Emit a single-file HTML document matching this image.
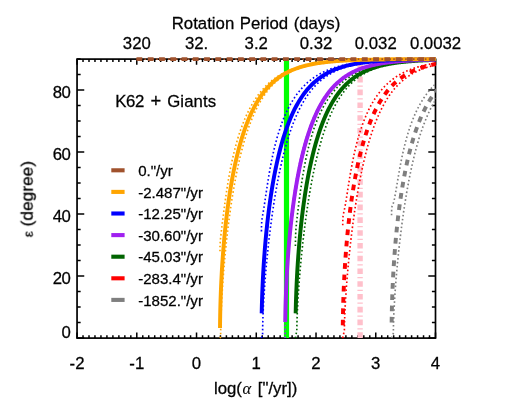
<!DOCTYPE html>
<html><head><meta charset="utf-8"><title>plot</title>
<style>html,body{margin:0;padding:0;background:#fff;overflow:hidden}svg{display:block}text{font-family:"Liberation Sans",sans-serif;font-size:16.75px;fill:#000;stroke:#000;stroke-width:0.28px}</style></head><body>
<svg width="512" height="398" viewBox="0 0 512 398">
<rect width="512" height="398" fill="#fff"/>
<defs><clipPath id="c"><rect x="76.05" y="56.90" width="359.80" height="282.20"/></clipPath></defs>
<path d="M77.05 338.10v-5.60M77.05 59.10v5.60M83.02 338.10v-2.80M83.02 59.10v2.80M89.00 338.10v-2.80M89.00 59.10v2.80M94.97 338.10v-2.80M94.97 59.10v2.80M100.95 338.10v-2.80M100.95 59.10v2.80M106.92 338.10v-2.80M106.92 59.10v2.80M112.90 338.10v-2.80M112.90 59.10v2.80M118.87 338.10v-2.80M118.87 59.10v2.80M124.84 338.10v-2.80M124.84 59.10v2.80M130.82 338.10v-2.80M130.82 59.10v2.80M136.79 338.10v-5.60M136.79 59.10v5.60M142.77 338.10v-2.80M142.77 59.10v2.80M148.74 338.10v-2.80M148.74 59.10v2.80M154.71 338.10v-2.80M154.71 59.10v2.80M160.69 338.10v-2.80M160.69 59.10v2.80M166.66 338.10v-2.80M166.66 59.10v2.80M172.64 338.10v-2.80M172.64 59.10v2.80M178.61 338.10v-2.80M178.61 59.10v2.80M184.59 338.10v-2.80M184.59 59.10v2.80M190.56 338.10v-2.80M190.56 59.10v2.80M196.53 338.10v-5.60M196.53 59.10v5.60M202.51 338.10v-2.80M202.51 59.10v2.80M208.48 338.10v-2.80M208.48 59.10v2.80M214.46 338.10v-2.80M214.46 59.10v2.80M220.43 338.10v-2.80M220.43 59.10v2.80M226.40 338.10v-2.80M226.40 59.10v2.80M232.38 338.10v-2.80M232.38 59.10v2.80M238.35 338.10v-2.80M238.35 59.10v2.80M244.33 338.10v-2.80M244.33 59.10v2.80M250.30 338.10v-2.80M250.30 59.10v2.80M256.27 338.10v-5.60M256.27 59.10v5.60M262.25 338.10v-2.80M262.25 59.10v2.80M268.22 338.10v-2.80M268.22 59.10v2.80M274.20 338.10v-2.80M274.20 59.10v2.80M280.17 338.10v-2.80M280.17 59.10v2.80M286.15 338.10v-2.80M286.15 59.10v2.80M292.12 338.10v-2.80M292.12 59.10v2.80M298.09 338.10v-2.80M298.09 59.10v2.80M304.07 338.10v-2.80M304.07 59.10v2.80M310.04 338.10v-2.80M310.04 59.10v2.80M316.02 338.10v-5.60M316.02 59.10v5.60M321.99 338.10v-2.80M321.99 59.10v2.80M327.96 338.10v-2.80M327.96 59.10v2.80M333.94 338.10v-2.80M333.94 59.10v2.80M339.91 338.10v-2.80M339.91 59.10v2.80M345.89 338.10v-2.80M345.89 59.10v2.80M351.86 338.10v-2.80M351.86 59.10v2.80M357.84 338.10v-2.80M357.84 59.10v2.80M363.81 338.10v-2.80M363.81 59.10v2.80M369.78 338.10v-2.80M369.78 59.10v2.80M375.76 338.10v-5.60M375.76 59.10v5.60M381.73 338.10v-2.80M381.73 59.10v2.80M387.71 338.10v-2.80M387.71 59.10v2.80M393.68 338.10v-2.80M393.68 59.10v2.80M399.66 338.10v-2.80M399.66 59.10v2.80M405.63 338.10v-2.80M405.63 59.10v2.80M411.60 338.10v-2.80M411.60 59.10v2.80M417.58 338.10v-2.80M417.58 59.10v2.80M423.55 338.10v-2.80M423.55 59.10v2.80M429.53 338.10v-2.80M429.53 59.10v2.80M435.50 338.10v-5.60M435.50 59.10v5.60M77.05 338.10h7.20M435.50 338.10h-7.20M77.05 322.60h3.60M435.50 322.60h-3.60M77.05 307.10h3.60M435.50 307.10h-3.60M77.05 291.60h3.60M435.50 291.60h-3.60M77.05 276.10h7.20M435.50 276.10h-7.20M77.05 260.60h3.60M435.50 260.60h-3.60M77.05 245.10h3.60M435.50 245.10h-3.60M77.05 229.60h3.60M435.50 229.60h-3.60M77.05 214.10h7.20M435.50 214.10h-7.20M77.05 198.60h3.60M435.50 198.60h-3.60M77.05 183.10h3.60M435.50 183.10h-3.60M77.05 167.60h3.60M435.50 167.60h-3.60M77.05 152.10h7.20M435.50 152.10h-7.20M77.05 136.60h3.60M435.50 136.60h-3.60M77.05 121.10h3.60M435.50 121.10h-3.60M77.05 105.60h3.60M435.50 105.60h-3.60M77.05 90.10h7.20M435.50 90.10h-7.20M77.05 74.60h3.60M435.50 74.60h-3.60M77.05 59.10h3.60M435.50 59.10h-3.60" stroke="#000" stroke-width="1.50" fill="none"/>
<rect x="77.05" y="59.10" width="358.45" height="279.00" fill="none" stroke="#000" stroke-width="1.70"/>
<g clip-path="url(#c)">
<line x1="286.5" x2="286.5" y1="59.10" y2="338.10" stroke="#00ff00" stroke-width="5.2"/>
<line x1="360.1" x2="360.1" y1="59.10" y2="338.10" stroke="#ffc0cb" stroke-width="5.4" stroke-dasharray="5.6 3.0 1.25 2.925" stroke-dashoffset="7.825"/>
<path d="M391.55 215.34L391.61 210.71L391.67 209.35L391.73 208.50L391.79 207.90L391.85 207.44L391.91 207.09L391.97 206.80L392.03 206.55L392.09 206.35L392.15 206.17L392.20 206.01L392.26 205.86L392.32 205.72L392.38 205.59L392.44 205.46L392.50 205.33L392.56 205.21L392.62 205.08L392.68 204.95L392.74 204.82L392.80 204.68L392.86 204.54L392.92 204.39L392.98 204.24L393.04 204.09L393.10 203.93L393.16 203.76L393.22 203.59L393.28 203.41L393.34 203.22L393.40 203.03L393.46 202.83L393.52 202.63L393.58 202.42L393.64 202.20L393.70 201.98L393.76 201.76L393.82 201.52L393.88 201.29L393.94 201.04L394.00 200.80L394.06 200.54L394.12 200.28L394.18 200.02L394.24 199.75L394.30 199.48L394.36 199.20L394.42 198.92L394.47 198.63L394.53 198.35L394.77 197.15L395.01 195.90L395.25 194.61L395.49 193.27L395.73 191.91L395.97 190.53L396.21 189.12L396.45 187.71L396.69 186.28L396.92 184.85L397.16 183.42L397.40 181.99L397.64 180.56L397.88 179.15L398.12 177.74L398.36 176.34L398.60 174.96L398.84 173.59L399.08 172.23L399.31 170.89L399.55 169.56L399.79 168.25L400.03 166.96L400.27 165.69L400.51 164.43L400.75 163.19L400.99 161.97L401.23 160.76L401.46 159.58L401.70 158.41L401.94 157.26L402.18 156.12L402.42 155.01L402.66 153.91L402.90 152.83L403.14 151.76L403.38 150.71L403.62 149.68L403.85 148.66L404.09 147.66L404.33 146.67L404.57 145.70L404.81 144.74L405.05 143.80L405.29 142.87L405.53 141.95L405.77 141.05L406.01 140.16L406.24 139.29L406.48 138.43L406.72 137.58L406.96 136.74L407.20 135.91L407.44 135.10L407.68 134.29L407.92 133.50L408.16 132.72L408.39 131.95L408.63 131.20L408.87 130.45L409.11 129.71L409.35 128.98L409.59 128.26L410.78 124.81L411.98 121.57L413.17 118.54L414.37 115.68L415.56 112.98L416.76 110.44L417.95 108.04L419.15 105.77L420.34 103.62L421.54 101.58L422.73 99.64L423.93 97.80L425.12 96.05L426.32 94.39L427.51 92.81L428.71 91.30L429.90 89.86L431.10 88.50L432.29 87.19L433.49 85.95L434.68 84.76L435.88 83.63L437.07 82.55L438.27 81.52" fill="none" stroke="#7f7f7f" stroke-width="1.65" stroke-dasharray="1.6 2.35"/>
<path d="M391.55 338.10L391.55 338.10L393.34 333.35L393.40 328.97L393.46 326.05L393.52 323.68L393.58 321.62L393.64 319.77L393.70 318.07L393.76 316.49L393.82 314.99L393.88 313.57L393.94 312.22L394.00 310.92L394.06 309.66L394.12 308.45L394.18 307.28L394.24 306.14L394.30 305.03L394.36 303.94L394.42 302.88L394.47 301.85L394.53 300.83L394.77 296.96L395.01 293.33L395.25 289.89L395.49 286.61L395.73 283.47L395.97 280.45L396.21 277.53L396.45 274.70L396.69 271.95L396.92 269.28L397.16 266.67L397.40 264.13L397.64 261.64L397.88 259.21L398.12 256.83L398.36 254.50L398.60 252.22L398.84 249.97L399.08 247.77L399.31 245.61L399.55 243.48L399.79 241.39L400.03 239.34L400.27 237.31L400.51 235.32L400.75 233.36L400.99 231.43L401.23 229.53L401.46 227.66L401.70 225.82L401.94 224.00L402.18 222.21L402.42 220.44L402.66 218.70L402.90 216.98L403.14 215.28L403.38 213.61L403.62 211.96L403.85 210.33L404.09 208.72L404.33 207.14L404.57 205.57L404.81 204.03L405.05 202.50L405.29 201.00L405.53 199.51L405.77 198.04L406.01 196.59L406.24 195.16L406.48 193.75L406.72 192.35L406.96 190.97L407.20 189.61L407.44 188.26L407.68 186.93L407.92 185.62L408.16 184.32L408.39 183.04L408.63 181.77L408.87 180.52L409.11 179.28L409.35 178.05L409.59 176.84L410.78 171.00L411.98 165.49L413.17 160.27L414.37 155.34L415.56 150.67L416.76 146.25L417.95 142.06L419.15 138.08L420.34 134.31L421.54 130.73L422.73 127.33L423.93 124.10L425.12 121.03L426.32 118.11L427.51 115.34L428.71 112.70L429.90 110.19L431.10 107.80L432.29 105.53L433.49 103.36L434.68 101.30L435.88 99.33L437.07 97.46L438.27 95.68" fill="none" stroke="#7f7f7f" stroke-width="1.65" stroke-dasharray="1.6 2.35"/>
<path d="M391.65 322.60L391.67 320.94L391.69 319.28L391.72 317.62L391.75 315.96L391.78 314.30L391.82 312.64L391.85 310.98L391.89 309.31L391.93 307.65L391.97 305.99L392.02 304.33L392.07 302.67L392.12 301.01L392.17 299.35L392.23 297.69L392.28 296.03L392.34 294.37L392.40 292.71L392.47 291.05L392.54 289.39L392.61 287.73L392.68 286.06L392.75 284.40L392.83 282.74L392.91 281.08L392.99 279.42L393.07 277.76L393.16 276.10L393.25 274.44L393.34 272.78L393.44 271.12L393.54 269.46L393.64 267.80L393.74 266.14L393.84 264.48L393.95 262.81L394.06 261.15L394.18 259.49L394.29 257.83L394.41 256.17L394.53 254.51L394.66 252.85L394.79 251.19L394.92 249.53L395.05 247.87L395.19 246.21L395.33 244.55L395.47 242.89L395.61 241.23L395.76 239.56L395.92 237.90L396.07 236.24L396.23 234.58L396.39 232.92L396.56 231.26L396.72 229.60L396.89 227.94L397.07 226.28L397.25 224.62L397.43 222.96L397.62 221.30L397.81 219.64L398.00 217.98L398.19 216.31L398.39 214.65L398.60 212.99L398.81 211.33L399.02 209.67L399.24 208.01L399.46 206.35L399.68 204.69L399.91 203.03L400.14 201.37L400.38 199.71L400.62 198.05L400.87 196.39L401.12 194.73L401.37 193.06L401.63 191.40L401.90 189.74L402.17 188.08L402.45 186.42L402.73 184.76L403.01 183.10L403.31 181.44L403.60 179.78L403.91 178.12L404.22 176.46L404.53 174.80L404.85 173.14L405.18 171.48L405.51 169.81L405.85 168.15L406.20 166.49L406.56 164.83L406.92 163.17L407.29 161.51L407.66 159.85L408.05 158.19L408.44 156.53L408.84 154.87L409.25 153.21L409.67 151.55L410.10 149.89L410.54 148.23L410.98 146.56L411.44 144.90L411.91 143.24L412.39 141.58L412.88 139.92L413.38 138.26L413.89 136.60L414.42 134.94L414.96 133.28L415.51 131.62L416.08 129.96L416.67 128.30L417.26 126.64L417.88 124.98L418.51 123.31L419.16 121.65L419.83 119.99L420.52 118.33L421.23 116.67L421.97 115.01L422.72 113.35L423.51 111.69L424.32 110.03L425.15 108.37L426.02 106.71L426.92 105.05L427.85 103.39L428.83 101.73L429.84 100.06L430.89 98.40L432.00 96.74L433.15 95.08L434.36 93.42L435.63 91.76L436.97 90.10L437.18 89.84L437.40 89.59L437.61 89.34L437.83 89.09L438.04 88.84L438.25 88.59L438.47 88.35" fill="none" stroke="#7f7f7f" stroke-width="3.95" stroke-dasharray="5.7 5.6"/>
<path d="M342.74 225.26L342.80 220.37L342.86 218.81L342.92 217.77L342.98 216.99L343.04 216.36L343.10 215.83L343.16 215.38L343.22 214.97L343.28 214.61L343.34 214.27L343.40 213.96L343.46 213.67L343.52 213.39L343.58 213.11L343.64 212.85L343.70 212.59L343.76 212.33L343.82 212.07L343.88 211.82L343.94 211.56L344.00 211.31L344.06 211.05L344.12 210.79L344.18 210.53L344.24 210.26L344.30 209.99L344.36 209.72L344.42 209.45L344.48 209.17L344.54 208.88L344.60 208.60L344.66 208.31L344.72 208.01L344.78 207.71L344.83 207.41L344.89 207.11L344.95 206.80L345.01 206.48L345.07 206.17L345.13 205.84L345.19 205.52L345.25 205.19L345.31 204.86L345.37 204.53L345.43 204.19L345.49 203.85L345.55 203.51L345.61 203.17L345.67 202.82L345.73 202.47L345.97 201.04L346.21 199.59L346.45 198.11L346.69 196.61L346.93 195.09L347.16 193.56L347.40 192.03L347.64 190.50L347.88 188.97L348.12 187.45L348.36 185.93L348.60 184.42L348.84 182.92L349.08 181.44L349.32 179.97L349.55 178.52L349.79 177.08L350.03 175.66L350.27 174.26L350.51 172.88L350.75 171.52L350.99 170.17L351.23 168.85L351.47 167.54L351.71 166.26L351.94 164.99L352.18 163.74L352.42 162.51L352.66 161.31L352.90 160.11L353.14 158.94L353.38 157.79L353.62 156.65L353.86 155.54L354.09 154.44L354.33 153.35L354.57 152.29L354.81 151.24L355.05 150.20L355.29 149.18L355.53 148.18L355.77 147.19L356.01 146.22L356.25 145.26L356.48 144.32L356.72 143.39L356.96 142.48L357.20 141.58L357.44 140.69L357.68 139.81L357.92 138.95L358.16 138.10L358.40 137.26L358.64 136.43L358.87 135.62L359.11 134.82L359.35 134.02L359.59 133.24L359.83 132.47L360.07 131.71L360.31 130.96L360.55 130.22L360.79 129.49L361.98 125.98L363.18 122.70L364.37 119.61L365.57 116.70L366.76 113.96L367.95 111.37L369.15 108.93L370.34 106.61L371.54 104.42L372.73 102.34L373.93 100.37L375.12 98.49L376.32 96.71L377.51 95.01L378.71 93.40L379.90 91.87L381.10 90.40L382.29 89.01L383.49 87.68L384.68 86.41L385.88 85.20L387.07 84.05L388.27 82.95L389.46 81.89L390.66 80.89L391.85 79.93L393.05 79.02L394.24 78.14L395.44 77.31L396.63 76.51L397.83 75.74L399.02 75.01L400.22 74.32L401.41 73.65L402.60 73.01L403.80 72.40L404.99 71.82L406.19 71.27L407.38 70.73L408.58 70.22L409.77 69.74L410.97 69.27L412.16 68.83L413.36 68.40L414.55 67.99L415.75 67.61L416.94 67.23L418.14 66.88L419.33 66.54L420.53 66.21L421.72 65.90L422.92 65.60L424.11 65.32L425.31 65.05L426.50 64.79L427.70 64.54L428.89 64.30L430.09 64.07L431.28 63.85L432.48 63.65L433.67 63.45L434.87 63.26L436.06 63.07L437.26 62.90L438.45 62.73" fill="none" stroke="#ff0000" stroke-width="1.65" stroke-dasharray="1.6 2.35"/>
<path d="M342.74 338.10L342.74 338.10L344.36 330.48L344.42 327.14L344.48 324.57L344.54 322.38L344.60 320.44L344.66 318.66L344.72 317.02L344.78 315.47L344.83 314.01L344.89 312.62L344.95 311.29L345.01 310.00L345.07 308.76L345.13 307.56L345.19 306.40L345.25 305.26L345.31 304.16L345.37 303.08L345.43 302.02L345.49 300.99L345.55 299.98L345.61 298.99L345.67 298.01L345.73 297.06L345.97 293.37L346.21 289.89L346.45 286.58L346.69 283.40L346.93 280.35L347.16 277.41L347.40 274.56L347.64 271.79L347.88 269.10L348.12 266.48L348.36 263.93L348.60 261.43L348.84 258.99L349.08 256.61L349.32 254.27L349.55 251.98L349.79 249.73L350.03 247.52L350.27 245.35L350.51 243.22L350.75 241.13L350.99 239.07L351.23 237.05L351.47 235.06L351.71 233.10L351.94 231.17L352.18 229.26L352.42 227.39L352.66 225.55L352.90 223.73L353.14 221.94L353.38 220.17L353.62 218.43L353.86 216.71L354.09 215.02L354.33 213.35L354.57 211.70L354.81 210.07L355.05 208.47L355.29 206.88L355.53 205.32L355.77 203.78L356.01 202.25L356.25 200.75L356.48 199.26L356.72 197.80L356.96 196.35L357.20 194.92L357.44 193.51L357.68 192.11L357.92 190.74L358.16 189.38L358.40 188.03L358.64 186.70L358.87 185.39L359.11 184.10L359.35 182.82L359.59 181.55L359.83 180.30L360.07 179.06L360.31 177.84L360.55 176.63L360.79 175.44L361.98 169.68L363.18 164.23L364.37 159.09L365.57 154.22L366.76 149.61L367.95 145.25L369.15 141.11L370.34 137.19L371.54 133.46L372.73 129.93L373.93 126.57L375.12 123.38L376.32 120.35L377.51 117.47L378.71 114.73L379.90 112.12L381.10 109.64L382.29 107.28L383.49 105.03L384.68 102.89L385.88 100.85L387.07 98.91L388.27 97.06L389.46 95.30L390.66 93.62L391.85 92.02L393.05 90.50L394.24 89.05L395.44 87.66L396.63 86.34L397.83 85.09L399.02 83.89L400.22 82.74L401.41 81.65L402.60 80.61L403.80 79.62L404.99 78.68L406.19 77.78L407.38 76.92L408.58 76.10L409.77 75.31L410.97 74.57L412.16 73.86L413.36 73.18L414.55 72.53L415.75 71.92L416.94 71.33L418.14 70.76L419.33 70.23L420.53 69.72L421.72 69.23L422.92 68.77L424.11 68.32L425.31 67.90L426.50 67.50L427.70 67.11L428.89 66.74L430.09 66.39L431.28 66.06L432.48 65.74L433.67 65.43L434.87 65.14L436.06 64.87L437.26 64.60L438.45 64.35" fill="none" stroke="#ff0000" stroke-width="1.65" stroke-dasharray="1.6 2.35"/>
<path d="M342.81 325.39L342.83 323.71L342.85 322.03L342.87 320.35L342.90 318.67L342.93 316.99L342.96 315.31L342.99 313.63L343.03 311.94L343.06 310.26L343.10 308.58L343.15 306.90L343.19 305.22L343.24 303.54L343.29 301.86L343.34 300.18L343.39 298.50L343.45 296.82L343.51 295.14L343.57 293.46L343.64 291.78L343.70 290.10L343.77 288.42L343.84 286.74L343.92 285.05L344.00 283.37L344.07 281.69L344.16 280.01L344.24 278.33L344.33 276.65L344.42 274.97L344.51 273.29L344.61 271.61L344.70 269.93L344.80 268.25L344.91 266.57L345.01 264.89L345.12 263.21L345.23 261.53L345.35 259.84L345.47 258.16L345.59 256.48L345.71 254.80L345.83 253.12L345.96 251.44L346.09 249.76L346.23 248.08L346.37 246.40L346.51 244.72L346.65 243.04L346.80 241.36L346.95 239.68L347.10 238.00L347.26 236.32L347.42 234.64L347.58 232.95L347.75 231.27L347.92 229.59L348.09 227.91L348.27 226.23L348.45 224.55L348.64 222.87L348.82 221.19L349.02 219.51L349.21 217.83L349.41 216.15L349.61 214.47L349.82 212.79L350.03 211.11L350.25 209.43L350.47 207.75L350.69 206.06L350.92 204.38L351.15 202.70L351.39 201.02L351.63 199.34L351.87 197.66L352.12 195.98L352.38 194.30L352.64 192.62L352.90 190.94L353.17 189.26L353.45 187.58L353.73 185.90L354.02 184.22L354.31 182.54L354.61 180.85L354.91 179.17L355.22 177.49L355.53 175.81L355.85 174.13L356.18 172.45L356.52 170.77L356.86 169.09L357.21 167.41L357.56 165.73L357.92 164.05L358.29 162.37L358.67 160.69L359.06 159.01L359.45 157.33L359.85 155.65L360.26 153.96L360.68 152.28L361.11 150.60L361.55 148.92L362.00 147.24L362.46 145.56L362.92 143.88L363.41 142.20L363.90 140.52L364.40 138.84L364.92 137.16L365.44 135.48L365.99 133.80L366.54 132.12L367.11 130.44L367.70 128.75L368.30 127.07L368.92 125.39L369.56 123.71L370.21 122.03L370.88 120.35L371.58 118.67L372.29 116.99L373.03 115.31L373.79 113.63L374.58 111.95L375.39 110.27L376.24 108.59L377.11 106.91L378.02 105.23L378.96 103.55L379.94 101.86L380.96 100.18L382.03 98.50L383.14 96.82L384.30 95.14L385.53 93.46L386.81 91.78L388.17 90.10L388.69 89.48L389.20 88.87L389.72 88.28L390.24 87.70L390.76 87.13L391.28 86.57L391.79 86.02L392.31 85.49L392.83 84.96L393.35 84.45L393.87 83.94L394.38 83.45L394.90 82.96L395.42 82.49L395.94 82.02L396.45 81.57L396.97 81.12L397.49 80.69L398.01 80.26L398.53 79.84L399.04 79.42L399.56 79.02L400.08 78.63L400.60 78.24L401.12 77.86L401.63 77.49L402.15 77.12L402.67 76.76L403.19 76.41L403.71 76.07L404.22 75.73L404.74 75.40L405.26 75.08L405.78 74.76L406.30 74.45L406.81 74.15L407.33 73.85L407.85 73.56L408.37 73.27L408.89 72.99L409.40 72.72L409.92 72.45L410.44 72.18L410.96 71.92L411.48 71.67L411.99 71.42L412.51 71.18L413.03 70.94L413.55 70.70L414.07 70.47L414.58 70.25L415.10 70.03L415.62 69.81L416.14 69.60L416.66 69.39L417.17 69.19L417.69 68.99L418.21 68.79L418.73 68.60L419.25 68.41L419.76 68.23L420.28 68.05L420.80 67.87L421.32 67.70L421.84 67.53L422.35 67.36L422.87 67.20L423.39 67.04L423.91 66.88L424.43 66.73L424.94 66.58L425.46 66.43L425.98 66.28L426.50 66.14L427.02 66.00L427.53 65.87L428.05 65.73L428.57 65.60L429.09 65.47L429.61 65.35L430.12 65.22L430.64 65.10L431.16 64.98L431.68 64.87L432.20 64.75L432.71 64.64L433.23 64.53L433.75 64.42L434.27 64.32L434.79 64.22L435.30 64.11L435.82 64.02L436.34 63.92L436.86 63.82L437.38 63.73L437.89 63.64L438.41 63.55" fill="none" stroke="#ff0000" stroke-width="3.95" stroke-dasharray="5.7 5.6"/>
<path d="M295.42 246.03L295.48 239.53L295.54 237.13L295.60 235.40L295.66 233.99L295.72 232.79L295.77 231.73L295.83 230.77L295.89 229.88L295.95 229.06L296.01 228.29L296.07 227.55L296.13 226.85L296.19 226.17L296.25 225.52L296.31 224.89L296.37 224.27L296.43 223.67L296.49 223.08L296.55 222.51L296.61 221.94L296.67 221.38L296.73 220.83L296.79 220.28L296.85 219.74L296.91 219.21L296.97 218.68L297.03 218.15L297.09 217.63L297.15 217.11L297.21 216.60L297.27 216.08L297.33 215.58L297.39 215.07L297.45 214.56L297.51 214.06L297.57 213.56L297.63 213.06L297.69 212.57L297.75 212.07L297.81 211.58L297.87 211.09L297.93 210.59L297.99 210.11L298.04 209.62L298.10 209.13L298.16 208.65L298.22 208.16L298.28 207.68L298.34 207.20L298.40 206.72L298.64 204.82L298.88 202.94L299.12 201.08L299.36 199.24L299.60 197.43L299.84 195.64L300.08 193.88L300.32 192.15L300.55 190.43L300.79 188.75L301.03 187.09L301.27 185.46L301.51 183.86L301.75 182.28L301.99 180.73L302.23 179.21L302.47 177.71L302.70 176.24L302.94 174.79L303.18 173.37L303.42 171.97L303.66 170.60L303.90 169.25L304.14 167.93L304.38 166.63L304.62 165.35L304.86 164.10L305.09 162.86L305.33 161.65L305.57 160.46L305.81 159.29L306.05 158.14L306.29 157.00L306.53 155.89L306.77 154.80L307.01 153.72L307.25 152.66L307.48 151.62L307.72 150.59L307.96 149.59L308.20 148.59L308.44 147.62L308.68 146.66L308.92 145.71L309.16 144.78L309.40 143.86L309.63 142.95L309.87 142.06L310.11 141.19L310.35 140.32L310.59 139.47L310.83 138.63L311.07 137.80L311.31 136.99L311.55 136.18L311.79 135.39L312.02 134.61L312.26 133.84L312.50 133.08L312.74 132.33L312.98 131.59L313.22 130.86L313.46 130.13L314.65 126.67L315.85 123.42L317.04 120.36L318.24 117.48L319.43 114.77L320.63 112.20L321.82 109.77L323.02 107.47L324.21 105.28L325.41 103.21L326.60 101.24L327.80 99.36L328.99 97.58L330.19 95.88L331.38 94.26L332.58 92.71L333.77 91.24L334.97 89.84L336.16 88.49L337.35 87.21L338.55 85.99L339.74 84.82L340.94 83.70L342.13 82.64L343.33 81.62L344.52 80.64L345.72 79.71L346.91 78.82L348.11 77.96L349.30 77.15L350.50 76.37L351.69 75.62L352.89 74.91L354.08 74.22L355.28 73.57L356.47 72.94L357.67 72.35L358.86 71.77L360.06 71.22L361.25 70.70L362.45 70.20L363.64 69.72L364.84 69.26L366.03 68.82L367.23 68.40L368.42 67.99L369.62 67.61L370.81 67.24L372.01 66.89L373.20 66.55L374.39 66.23L375.59 65.92L376.78 65.62L377.98 65.34L379.17 65.07L380.37 64.81L381.56 64.56L382.76 64.32L383.95 64.09L385.15 63.88L386.34 63.67L387.54 63.47L388.73 63.28L389.93 63.10L391.12 62.92L392.32 62.76L393.51 62.60L394.71 62.44L395.90 62.30L397.10 62.16L398.29 62.03L399.49 61.90L400.68 61.78L401.88 61.66L403.07 61.55L404.27 61.44L405.46 61.34L406.66 61.24L407.85 61.15L409.04 61.06L410.24 60.97L411.43 60.89L412.63 60.81L413.82 60.74L415.02 60.66L416.21 60.59L417.41 60.53L418.60 60.47L419.80 60.41L420.99 60.35L422.19 60.29L423.38 60.24L424.58 60.19L425.77 60.14L426.97 60.10L428.16 60.05L429.36 60.01L430.55 59.97L431.75 59.93L432.94 59.90L434.14 59.86L435.33 59.83L436.53 59.80L437.72 59.77" fill="none" stroke="#006400" stroke-width="1.65" stroke-dasharray="1.6 2.35"/>
<path d="M295.42 338.10L295.42 338.10L296.79 330.59L296.85 327.15L296.91 324.51L296.97 322.27L297.03 320.29L297.09 318.47L297.15 316.79L297.21 315.21L297.27 313.72L297.33 312.29L297.39 310.93L297.45 309.62L297.51 308.35L297.57 307.12L297.63 305.93L297.69 304.77L297.75 303.64L297.81 302.54L297.87 301.46L297.93 300.41L297.99 299.38L298.04 298.36L298.10 297.37L298.16 296.39L298.22 295.43L298.28 294.48L298.34 293.55L298.40 292.63L298.64 289.08L298.88 285.71L299.12 282.48L299.36 279.37L299.60 276.38L299.84 273.49L300.08 270.68L300.32 267.95L300.55 265.30L300.79 262.71L301.03 260.18L301.27 257.71L301.51 255.30L301.75 252.93L301.99 250.62L302.23 248.35L302.47 246.12L302.70 243.93L302.94 241.78L303.18 239.67L303.42 237.60L303.66 235.56L303.90 233.55L304.14 231.58L304.38 229.64L304.62 227.72L304.86 225.84L305.09 223.98L305.33 222.16L305.57 220.36L305.81 218.58L306.05 216.83L306.29 215.11L306.53 213.40L306.77 211.73L307.01 210.07L307.25 208.44L307.48 206.83L307.72 205.24L307.96 203.68L308.20 202.13L308.44 200.60L308.68 199.10L308.92 197.61L309.16 196.14L309.40 194.69L309.63 193.26L309.87 191.85L310.11 190.45L310.35 189.08L310.59 187.71L310.83 186.37L311.07 185.04L311.31 183.73L311.55 182.44L311.79 181.16L312.02 179.89L312.26 178.64L312.50 177.41L312.74 176.19L312.98 174.98L313.22 173.79L313.46 172.61L314.65 166.93L315.85 161.57L317.04 156.50L318.24 151.71L319.43 147.18L320.63 142.89L321.82 138.82L323.02 134.97L324.21 131.32L325.41 127.85L326.60 124.56L327.80 121.43L328.99 118.47L330.19 115.65L331.38 112.97L332.58 110.42L333.77 107.99L334.97 105.69L336.16 103.50L337.35 101.41L338.55 99.42L339.74 97.53L340.94 95.73L342.13 94.02L343.33 92.39L344.52 90.83L345.72 89.35L346.91 87.94L348.11 86.60L349.30 85.32L350.50 84.10L351.69 82.94L352.89 81.83L354.08 80.77L355.28 79.77L356.47 78.81L357.67 77.89L358.86 77.02L360.06 76.19L361.25 75.40L362.45 74.65L363.64 73.93L364.84 73.24L366.03 72.59L367.23 71.96L368.42 71.37L369.62 70.80L370.81 70.26L372.01 69.75L373.20 69.26L374.39 68.79L375.59 68.34L376.78 67.91L377.98 67.51L379.17 67.12L380.37 66.75L381.56 66.40L382.76 66.06L383.95 65.74L385.15 65.43L386.34 65.14L387.54 64.86L388.73 64.60L389.93 64.35L391.12 64.10L392.32 63.87L393.51 63.65L394.71 63.45L395.90 63.25L397.10 63.06L398.29 62.87L399.49 62.70L400.68 62.53L401.88 62.38L403.07 62.23L404.27 62.08L405.46 61.95L406.66 61.82L407.85 61.69L409.04 61.57L410.24 61.46L411.43 61.35L412.63 61.25L413.82 61.15L415.02 61.05L416.21 60.96L417.41 60.88L418.60 60.80L419.80 60.72L420.99 60.65L422.19 60.58L423.38 60.51L424.58 60.44L425.77 60.38L426.97 60.32L428.16 60.27L429.36 60.21L430.55 60.16L431.75 60.11L432.94 60.07L434.14 60.02L435.33 59.98L436.53 59.94L437.72 59.90" fill="none" stroke="#006400" stroke-width="1.65" stroke-dasharray="1.6 2.35"/>
<path d="M295.67 313.39L295.70 311.80L295.74 310.20L295.78 308.61L295.82 307.01L295.86 305.42L295.90 303.82L295.95 302.23L296.00 300.63L296.05 299.04L296.10 297.44L296.16 295.85L296.22 294.25L296.27 292.66L296.34 291.06L296.40 289.47L296.47 287.87L296.54 286.28L296.61 284.68L296.68 283.09L296.76 281.49L296.83 279.90L296.92 278.30L297.00 276.71L297.08 275.11L297.17 273.52L297.26 271.92L297.35 270.33L297.45 268.73L297.54 267.14L297.64 265.54L297.75 263.95L297.85 262.35L297.96 260.76L298.07 259.16L298.18 257.57L298.29 255.97L298.41 254.38L298.53 252.78L298.65 251.19L298.78 249.60L298.91 248.00L299.04 246.41L299.17 244.81L299.31 243.22L299.45 241.62L299.59 240.03L299.74 238.43L299.88 236.84L300.03 235.24L300.19 233.65L300.35 232.05L300.50 230.46L300.67 228.86L300.83 227.27L301.00 225.67L301.18 224.08L301.35 222.48L301.53 220.89L301.71 219.29L301.90 217.70L302.09 216.10L302.28 214.51L302.48 212.91L302.68 211.32L302.88 209.72L303.09 208.13L303.30 206.53L303.51 204.94L303.73 203.34L303.96 201.75L304.18 200.15L304.41 198.56L304.65 196.96L304.89 195.37L305.13 193.77L305.38 192.18L305.63 190.58L305.89 188.99L306.15 187.39L306.42 185.80L306.69 184.20L306.97 182.61L307.25 181.01L307.54 179.42L307.83 177.82L308.13 176.23L308.43 174.63L308.74 173.04L309.05 171.44L309.38 169.85L309.70 168.25L310.04 166.66L310.38 165.06L310.72 163.47L311.08 161.87L311.44 160.28L311.80 158.68L312.18 157.09L312.56 155.49L312.95 153.90L313.35 152.30L313.76 150.71L314.17 149.11L314.60 147.52L315.03 145.92L315.47 144.33L315.92 142.73L316.39 141.14L316.86 139.54L317.34 137.95L317.84 136.35L318.35 134.76L318.87 133.16L319.40 131.57L319.95 129.97L320.50 128.38L321.08 126.78L321.67 125.19L322.27 123.59L322.89 122.00L323.53 120.40L324.19 118.81L324.87 117.21L325.56 115.62L326.28 114.02L327.02 112.43L327.79 110.83L328.58 109.24L329.40 107.64L330.24 106.05L331.12 104.45L332.03 102.86L332.97 101.26L333.95 99.67L334.98 98.07L336.04 96.48L337.16 94.88L338.33 93.29L339.55 91.69L340.84 90.10L341.66 89.13L342.47 88.19L343.29 87.28L344.10 86.40L344.92 85.55L345.74 84.73L346.55 83.93L347.37 83.15L348.19 82.40L349.00 81.68L349.82 80.98L350.64 80.29L351.45 79.64L352.27 79.00L353.08 78.38L353.90 77.78L354.72 77.20L355.53 76.64L356.35 76.09L357.17 75.56L357.98 75.05L358.80 74.56L359.61 74.08L360.43 73.61L361.25 73.16L362.06 72.72L362.88 72.30L363.70 71.89L364.51 71.50L365.33 71.11L366.14 70.74L366.96 70.38L367.78 70.03L368.59 69.69L369.41 69.36L370.23 69.04L371.04 68.73L371.86 68.44L372.67 68.15L373.49 67.87L374.31 67.59L375.12 67.33L375.94 67.08L376.76 66.83L377.57 66.59L378.39 66.36L379.20 66.13L380.02 65.91L380.84 65.70L381.65 65.50L382.47 65.30L383.29 65.11L384.10 64.92L384.92 64.74L385.74 64.57L386.55 64.40L387.37 64.23L388.18 64.07L389.00 63.92L389.82 63.77L390.63 63.63L391.45 63.49L392.27 63.35L393.08 63.22L393.90 63.09L394.71 62.97L395.53 62.85L396.35 62.73L397.16 62.62L397.98 62.51L398.80 62.40L399.61 62.30L400.43 62.20L401.24 62.11L402.06 62.01L402.88 61.92L403.69 61.84L404.51 61.75L405.33 61.67L406.14 61.59L406.96 61.51L407.77 61.44L408.59 61.37L409.41 61.29L410.22 61.23L411.04 61.16L411.86 61.10L412.67 61.04L413.49 60.98L414.31 60.92L415.12 60.86L415.94 60.81L416.75 60.75L417.57 60.70L418.39 60.65L419.20 60.60L420.02 60.56L420.84 60.51L421.65 60.47L422.47 60.43L423.28 60.39L424.10 60.35L424.92 60.31L425.73 60.27L426.55 60.23L427.37 60.20L428.18 60.16L429.00 60.13L429.81 60.10L430.63 60.07L431.45 60.04L432.26 60.01L433.08 59.98L433.90 59.95L434.71 59.93L435.53 59.90L436.34 59.88L437.16 59.85L437.98 59.83" fill="none" stroke="#006400" stroke-width="3.95"/>
<path d="M285.14 313.30L285.20 307.49L285.26 304.24L285.32 301.54L285.38 299.15L285.44 296.97L285.50 294.95L285.56 293.06L285.62 291.28L285.68 289.58L285.74 287.96L285.80 286.41L285.86 284.91L285.92 283.47L285.98 282.07L286.04 280.72L286.10 279.40L286.16 278.13L286.22 276.88L286.28 275.66L286.34 274.48L286.40 273.32L286.46 272.18L286.52 271.07L286.58 269.98L286.64 268.91L286.70 267.86L286.76 266.83L286.82 265.81L286.88 264.82L286.94 263.84L286.99 262.87L287.05 261.92L287.11 260.99L287.17 260.06L287.23 259.15L287.29 258.26L287.35 257.37L287.41 256.50L287.47 255.64L287.53 254.79L287.59 253.95L287.65 253.12L287.71 252.30L287.77 251.48L287.83 250.68L287.89 249.89L287.95 249.11L288.01 248.33L288.07 247.56L288.13 246.80L288.37 243.84L288.61 241.00L288.85 238.25L289.09 235.60L289.32 233.03L289.56 230.55L289.80 228.14L290.04 225.79L290.28 223.52L290.52 221.30L290.76 219.14L291.00 217.04L291.24 214.99L291.48 212.98L291.71 211.03L291.95 209.11L292.19 207.24L292.43 205.41L292.67 203.61L292.91 201.86L293.15 200.14L293.39 198.45L293.63 196.79L293.87 195.17L294.10 193.58L294.34 192.01L294.58 190.48L294.82 188.97L295.06 187.48L295.30 186.03L295.54 184.59L295.78 183.19L296.02 181.80L296.25 180.44L296.49 179.09L296.73 177.77L296.97 176.47L297.21 175.19L297.45 173.93L297.69 172.69L297.93 171.47L298.17 170.26L298.41 169.08L298.64 167.90L298.88 166.75L299.12 165.61L299.36 164.49L299.60 163.38L299.84 162.29L300.08 161.22L300.32 160.15L300.56 159.11L300.80 158.07L301.03 157.05L301.27 156.05L301.51 155.05L301.75 154.07L301.99 153.10L302.23 152.15L302.47 151.20L302.71 150.27L302.95 149.35L303.18 148.44L304.38 144.05L305.57 139.92L306.77 136.03L307.96 132.34L309.16 128.86L310.35 125.57L311.55 122.44L312.74 119.48L313.94 116.67L315.13 113.99L316.33 111.46L317.52 109.04L318.72 106.75L319.91 104.56L321.11 102.48L322.30 100.50L323.50 98.61L324.69 96.82L325.89 95.10L327.08 93.47L328.28 91.91L329.47 90.43L330.67 89.01L331.86 87.66L333.06 86.37L334.25 85.14L335.45 83.97L336.64 82.85L337.83 81.78L339.03 80.76L340.22 79.79L341.42 78.86L342.61 77.97L343.81 77.12L345.00 76.31L346.20 75.54L347.39 74.80L348.59 74.10L349.78 73.42L350.98 72.78L352.17 72.17L353.37 71.58L354.56 71.02L355.76 70.49L356.95 69.98L358.15 69.49L359.34 69.02L360.54 68.58L361.73 68.15L362.93 67.75L364.12 67.36L365.32 66.99L366.51 66.64L367.71 66.30L368.90 65.98L370.10 65.67L371.29 65.37L372.49 65.09L373.68 64.82L374.87 64.57L376.07 64.32L377.26 64.09L378.46 63.86L379.65 63.65L380.85 63.45L382.04 63.25L383.24 63.07L384.43 62.89L385.63 62.72L386.82 62.56L388.02 62.40L389.21 62.25L390.41 62.11L391.60 61.98L392.80 61.85L393.99 61.72L395.19 61.61L396.38 61.49L397.58 61.39L398.77 61.28L399.97 61.19L401.16 61.09L402.36 61.00L403.55 60.92L404.75 60.84L405.94 60.76L407.14 60.68L408.33 60.61L409.52 60.55L410.72 60.48L411.91 60.42L413.11 60.36L414.30 60.30L415.50 60.25L416.69 60.20L417.89 60.15L419.08 60.10L420.28 60.06L421.47 60.01L422.67 59.97L423.86 59.93L425.06 59.90L426.25 59.86L427.45 59.83L428.64 59.79L429.84 59.76L431.03 59.73L432.23 59.70L433.42 59.68L434.62 59.65L435.81 59.63L437.01 59.60L438.20 59.58" fill="none" stroke="#a020f0" stroke-width="1.65" stroke-dasharray="1.6 2.35"/>
<path d="M285.14 338.10L285.14 338.10L285.20 331.83L285.26 326.28L285.32 322.30L285.38 319.01L285.44 316.13L285.50 313.56L285.56 311.20L285.62 309.01L285.68 306.96L285.74 305.03L285.80 303.19L285.86 301.44L285.92 299.77L285.98 298.16L286.04 296.62L286.10 295.12L286.16 293.67L286.22 292.27L286.28 290.91L286.34 289.58L286.40 288.29L286.46 287.04L286.52 285.81L286.58 284.61L286.64 283.43L286.70 282.28L286.76 281.16L286.82 280.05L286.88 278.97L286.94 277.91L286.99 276.86L287.05 275.83L287.11 274.82L287.17 273.83L287.23 272.85L287.29 271.89L287.35 270.94L287.41 270.00L287.47 269.08L287.53 268.17L287.59 267.27L287.65 266.39L287.71 265.51L287.77 264.65L287.83 263.80L287.89 262.95L287.95 262.12L288.01 261.30L288.07 260.48L288.13 259.68L288.37 256.55L288.61 253.54L288.85 250.64L289.09 247.85L289.32 245.15L289.56 242.54L289.80 240.01L290.04 237.55L290.28 235.16L290.52 232.83L290.76 230.56L291.00 228.35L291.24 226.19L291.48 224.08L291.71 222.02L291.95 220.01L292.19 218.04L292.43 216.11L292.67 214.21L292.91 212.36L293.15 210.54L293.39 208.76L293.63 207.01L293.87 205.29L294.10 203.60L294.34 201.94L294.58 200.31L294.82 198.71L295.06 197.14L295.30 195.59L295.54 194.06L295.78 192.56L296.02 191.08L296.25 189.63L296.49 188.20L296.73 186.79L296.97 185.40L297.21 184.03L297.45 182.68L297.69 181.36L297.93 180.05L298.17 178.75L298.41 177.48L298.64 176.23L298.88 174.99L299.12 173.77L299.36 172.56L299.60 171.37L299.84 170.20L300.08 169.04L300.32 167.90L300.56 166.77L300.80 165.66L301.03 164.56L301.27 163.47L301.51 162.40L301.75 161.35L301.99 160.30L302.23 159.27L302.47 158.25L302.71 157.24L302.95 156.25L303.18 155.27L304.38 150.53L305.57 146.06L306.77 141.84L307.96 137.85L309.16 134.08L310.35 130.50L311.55 127.12L312.74 123.90L313.94 120.86L315.13 117.96L316.33 115.21L317.52 112.59L318.72 110.11L319.91 107.74L321.11 105.49L322.30 103.35L323.50 101.31L324.69 99.37L325.89 97.52L327.08 95.76L328.28 94.08L329.47 92.47L330.67 90.95L331.86 89.49L333.06 88.11L334.25 86.78L335.45 85.52L336.64 84.32L337.83 83.17L339.03 82.07L340.22 81.03L341.42 80.03L342.61 79.08L343.81 78.17L345.00 77.31L346.20 76.48L347.39 75.69L348.59 74.94L349.78 74.22L350.98 73.54L352.17 72.88L353.37 72.26L354.56 71.66L355.76 71.09L356.95 70.55L358.15 70.03L359.34 69.54L360.54 69.06L361.73 68.61L362.93 68.18L364.12 67.77L365.32 67.38L366.51 67.00L367.71 66.65L368.90 66.31L370.10 65.98L371.29 65.67L372.49 65.37L373.68 65.09L374.87 64.82L376.07 64.56L377.26 64.31L378.46 64.08L379.65 63.85L380.85 63.64L382.04 63.43L383.24 63.24L384.43 63.05L385.63 62.87L386.82 62.70L388.02 62.54L389.21 62.38L390.41 62.23L391.60 62.09L392.80 61.96L393.99 61.83L395.19 61.70L396.38 61.59L397.58 61.47L398.77 61.37L399.97 61.26L401.16 61.17L402.36 61.07L403.55 60.98L404.75 60.90L405.94 60.82L407.14 60.74L408.33 60.67L409.52 60.60L410.72 60.53L411.91 60.46L413.11 60.40L414.30 60.34L415.50 60.29L416.69 60.23L417.89 60.18L419.08 60.13L420.28 60.09L421.47 60.04L422.67 60.00L423.86 59.96L425.06 59.92L426.25 59.88L427.45 59.85L428.64 59.81L429.84 59.78L431.03 59.75L432.23 59.72L433.42 59.69L434.62 59.67L435.81 59.64L437.01 59.62L438.20 59.59" fill="none" stroke="#a020f0" stroke-width="1.65" stroke-dasharray="1.6 2.35"/>
<path d="M285.25 321.98L285.27 320.32L285.30 318.67L285.33 317.01L285.36 315.35L285.39 313.70L285.42 312.04L285.46 310.39L285.50 308.73L285.54 307.07L285.58 305.42L285.63 303.76L285.68 302.10L285.73 300.45L285.78 298.79L285.84 297.14L285.90 295.48L285.96 293.82L286.02 292.17L286.09 290.51L286.15 288.85L286.22 287.20L286.30 285.54L286.37 283.89L286.45 282.23L286.53 280.57L286.61 278.92L286.70 277.26L286.78 275.60L286.87 273.95L286.97 272.29L287.06 270.64L287.16 268.98L287.26 267.32L287.36 265.67L287.47 264.01L287.58 262.35L287.69 260.70L287.80 259.04L287.92 257.38L288.04 255.73L288.16 254.07L288.29 252.42L288.41 250.76L288.55 249.10L288.68 247.45L288.82 245.79L288.96 244.13L289.10 242.48L289.25 240.82L289.39 239.17L289.55 237.51L289.70 235.85L289.86 234.20L290.02 232.54L290.19 230.88L290.36 229.23L290.53 227.57L290.70 225.92L290.88 224.26L291.06 222.60L291.25 220.95L291.44 219.29L291.63 217.63L291.83 215.98L292.03 214.32L292.23 212.67L292.44 211.01L292.66 209.35L292.87 207.70L293.09 206.04L293.32 204.38L293.55 202.73L293.78 201.07L294.02 199.41L294.26 197.76L294.50 196.10L294.76 194.45L295.01 192.79L295.27 191.13L295.54 189.48L295.81 187.82L296.08 186.16L296.37 184.51L296.65 182.85L296.94 181.20L297.24 179.54L297.55 177.88L297.85 176.23L298.17 174.57L298.49 172.91L298.82 171.26L299.15 169.60L299.49 167.95L299.84 166.29L300.20 164.63L300.56 162.98L300.93 161.32L301.30 159.66L301.69 158.01L302.08 156.35L302.48 154.70L302.89 153.04L303.31 151.38L303.74 149.73L304.17 148.07L304.62 146.41L305.08 144.76L305.55 143.10L306.02 141.44L306.51 139.79L307.01 138.13L307.53 136.48L308.05 134.82L308.59 133.16L309.15 131.51L309.71 129.85L310.30 128.19L310.90 126.54L311.51 124.88L312.14 123.23L312.79 121.57L313.46 119.91L314.15 118.26L314.86 116.60L315.59 114.94L316.35 113.29L317.13 111.63L317.94 109.98L318.77 108.32L319.64 106.66L320.54 105.01L321.47 103.35L322.44 101.69L323.45 100.04L324.50 98.38L325.60 96.73L326.75 95.07L327.96 93.41L329.23 91.76L330.57 90.10L331.45 89.06L332.32 88.05L333.20 87.08L334.08 86.14L334.96 85.23L335.84 84.35L336.72 83.51L337.60 82.69L338.48 81.90L339.36 81.14L340.23 80.40L341.11 79.69L341.99 79.00L342.87 78.33L343.75 77.69L344.63 77.07L345.51 76.47L346.39 75.89L347.27 75.33L348.14 74.78L349.02 74.26L349.90 73.75L350.78 73.27L351.66 72.79L352.54 72.34L353.42 71.89L354.30 71.47L355.18 71.05L356.06 70.66L356.93 70.27L357.81 69.90L358.69 69.54L359.57 69.19L360.45 68.85L361.33 68.53L362.21 68.21L363.09 67.91L363.97 67.62L364.84 67.33L365.72 67.06L366.60 66.79L367.48 66.54L368.36 66.29L369.24 66.05L370.12 65.82L371.00 65.59L371.88 65.38L372.75 65.17L373.63 64.97L374.51 64.77L375.39 64.58L376.27 64.40L377.15 64.22L378.03 64.05L378.91 63.89L379.79 63.73L380.67 63.57L381.54 63.42L382.42 63.28L383.30 63.14L384.18 63.01L385.06 62.88L385.94 62.75L386.82 62.63L387.70 62.51L388.58 62.40L389.45 62.29L390.33 62.18L391.21 62.08L392.09 61.98L392.97 61.88L393.85 61.79L394.73 61.70L395.61 61.61L396.49 61.53L397.36 61.45L398.24 61.37L399.12 61.30L400.00 61.22L400.88 61.15L401.76 61.08L402.64 61.02L403.52 60.95L404.40 60.89L405.28 60.83L406.15 60.77L407.03 60.72L407.91 60.66L408.79 60.61L409.67 60.56L410.55 60.51L411.43 60.47L412.31 60.42L413.19 60.38L414.06 60.33L414.94 60.29L415.82 60.25L416.70 60.22L417.58 60.18L418.46 60.14L419.34 60.11L420.22 60.07L421.10 60.04L421.97 60.01L422.85 59.98L423.73 59.95L424.61 59.92L425.49 59.89L426.37 59.87L427.25 59.84L428.13 59.82L429.01 59.79L429.89 59.77L430.76 59.75L431.64 59.73L432.52 59.71L433.40 59.69L434.28 59.67L435.16 59.65L436.04 59.63L436.92 59.61L437.80 59.59" fill="none" stroke="#a020f0" stroke-width="3.95"/>
<path d="M261.44 231.46L261.50 226.29L261.56 224.56L261.62 223.37L261.68 222.45L261.74 221.69L261.80 221.03L261.86 220.46L261.92 219.94L261.98 219.46L262.04 219.01L262.10 218.59L262.16 218.20L262.22 217.81L262.28 217.44L262.34 217.08L262.40 216.73L262.46 216.38L262.52 216.03L262.58 215.69L262.64 215.35L262.69 215.02L262.75 214.68L262.81 214.34L262.87 214.00L262.93 213.66L262.99 213.32L263.05 212.98L263.11 212.63L263.17 212.29L263.23 211.94L263.29 211.59L263.35 211.24L263.41 210.88L263.47 210.52L263.53 210.16L263.59 209.80L263.65 209.44L263.71 209.07L263.77 208.70L263.83 208.33L263.89 207.96L263.95 207.58L264.01 207.21L264.07 206.83L264.13 206.45L264.19 206.06L264.25 205.68L264.31 205.29L264.37 204.91L264.43 204.52L264.67 202.95L264.91 201.36L265.14 199.76L265.38 198.15L265.62 196.54L265.86 194.93L266.10 193.32L266.34 191.72L266.58 190.12L266.82 188.54L267.06 186.97L267.30 185.41L267.53 183.87L267.77 182.35L268.01 180.85L268.25 179.36L268.49 177.90L268.73 176.45L268.97 175.03L269.21 173.62L269.45 172.24L269.68 170.88L269.92 169.54L270.16 168.21L270.40 166.91L270.64 165.63L270.88 164.37L271.12 163.13L271.36 161.91L271.60 160.71L271.84 159.53L272.07 158.37L272.31 157.22L272.55 156.10L272.79 154.99L273.03 153.90L273.27 152.82L273.51 151.77L273.75 150.73L273.99 149.70L274.23 148.69L274.46 147.70L274.70 146.72L274.94 145.76L275.18 144.81L275.42 143.88L275.66 142.96L275.90 142.05L276.14 141.16L276.38 140.28L276.61 139.41L276.85 138.56L277.09 137.71L277.33 136.88L277.57 136.06L277.81 135.26L278.05 134.46L278.29 133.67L278.53 132.90L278.77 132.14L279.00 131.38L279.24 130.64L279.48 129.90L280.68 126.38L281.87 123.07L283.07 119.96L284.26 117.04L285.46 114.28L286.65 111.68L287.85 109.22L289.04 106.89L290.24 104.69L291.43 102.59L292.63 100.61L293.82 98.72L295.02 96.93L296.21 95.22L297.40 93.60L298.60 92.05L299.79 90.58L300.99 89.18L302.18 87.84L303.38 86.56L304.57 85.35L305.77 84.19L306.96 83.08L308.16 82.02L309.35 81.01L310.55 80.05L311.74 79.12L312.94 78.24L314.13 77.40L315.33 76.60L316.52 75.83L317.72 75.10L318.91 74.40L320.11 73.73L321.30 73.08L322.50 72.47L323.69 71.89L324.89 71.33L326.08 70.79L327.28 70.28L328.47 69.79L329.67 69.32L330.86 68.87L332.06 68.45L333.25 68.04L334.44 67.65L335.64 67.27L336.83 66.91L338.03 66.57L339.22 66.25L340.42 65.93L341.61 65.63L342.81 65.35L344.00 65.07L345.20 64.81L346.39 64.56L347.59 64.32L348.78 64.09L349.98 63.87L351.17 63.67L352.37 63.46L353.56 63.27L354.76 63.09L355.95 62.92L357.15 62.75L358.34 62.59L359.54 62.43L360.73 62.29L361.93 62.15L363.12 62.01L364.32 61.89L365.51 61.76L366.71 61.65L367.90 61.54L369.09 61.43L370.29 61.33L371.48 61.23L372.68 61.13L373.87 61.05L375.07 60.96L376.26 60.88L377.46 60.80L378.65 60.73L379.85 60.65L381.04 60.59L382.24 60.52L383.43 60.46L384.63 60.40L385.82 60.34L387.02 60.29L388.21 60.23L389.41 60.18L390.60 60.14L391.80 60.09L392.99 60.05L394.19 60.00L395.38 59.97L396.58 59.93L397.77 59.89L398.97 59.86L400.16 59.82L401.36 59.79L402.55 59.76L403.75 59.73L404.94 59.70L406.13 59.68L407.33 59.65L408.52 59.63L409.72 59.60L410.91 59.58L412.11 59.56L413.30 59.54L414.50 59.52L415.69 59.50L416.89 59.48L418.08 59.47L419.28 59.45L420.47 59.44L421.67 59.42L422.86 59.41L424.06 59.39L425.25 59.38L426.45 59.37L427.64 59.36L428.84 59.34L430.03 59.33L431.23 59.32L432.42 59.31L433.62 59.30L434.81 59.29L436.01 59.29L437.20 59.28L438.40 59.27" fill="none" stroke="#0000ff" stroke-width="1.65" stroke-dasharray="1.6 2.35"/>
<path d="M261.44 338.10L261.44 338.10L262.58 334.30L262.64 329.29L262.69 326.18L262.75 323.68L262.81 321.52L262.87 319.58L262.93 317.80L262.99 316.14L263.05 314.57L263.11 313.09L263.17 311.67L263.23 310.31L263.29 309.00L263.35 307.74L263.41 306.51L263.47 305.32L263.53 304.17L263.59 303.04L263.65 301.93L263.71 300.86L263.77 299.80L263.83 298.77L263.89 297.75L263.95 296.76L264.01 295.78L264.07 294.82L264.13 293.87L264.19 292.94L264.25 292.02L264.31 291.12L264.37 290.23L264.43 289.35L264.67 285.94L264.91 282.68L265.14 279.56L265.38 276.55L265.62 273.64L265.86 270.83L266.10 268.10L266.34 265.44L266.58 262.86L266.82 260.34L267.06 257.87L267.30 255.47L267.53 253.11L267.77 250.80L268.01 248.54L268.25 246.33L268.49 244.15L268.73 242.02L268.97 239.92L269.21 237.86L269.45 235.83L269.68 233.84L269.92 231.88L270.16 229.95L270.40 228.05L270.64 226.18L270.88 224.34L271.12 222.53L271.36 220.74L271.60 218.98L271.84 217.24L272.07 215.53L272.31 213.85L272.55 212.18L272.79 210.54L273.03 208.92L273.27 207.33L273.51 205.75L273.75 204.20L273.99 202.66L274.23 201.15L274.46 199.65L274.70 198.18L274.94 196.72L275.18 195.28L275.42 193.86L275.66 192.46L275.90 191.08L276.14 189.71L276.38 188.36L276.61 187.02L276.85 185.70L277.09 184.40L277.33 183.12L277.57 181.84L277.81 180.59L278.05 179.35L278.29 178.12L278.53 176.91L278.77 175.71L279.00 174.53L279.24 173.36L279.48 172.20L280.68 166.62L281.87 161.34L283.07 156.35L284.26 151.63L285.46 147.16L286.65 142.93L287.85 138.91L289.04 135.11L290.24 131.49L291.43 128.06L292.63 124.80L293.82 121.70L295.02 118.76L296.21 115.96L297.40 113.30L298.60 110.76L299.79 108.35L300.99 106.06L302.18 103.87L303.38 101.79L304.57 99.81L305.77 97.92L306.96 96.12L308.16 94.41L309.35 92.78L310.55 91.22L311.74 89.74L312.94 88.32L314.13 86.98L315.33 85.69L316.52 84.47L317.72 83.30L318.91 82.19L320.11 81.12L321.30 80.11L322.50 79.14L323.69 78.22L324.89 77.35L326.08 76.51L327.28 75.71L328.47 74.95L329.67 74.22L330.86 73.53L332.06 72.86L333.25 72.23L334.44 71.63L335.64 71.06L336.83 70.51L338.03 69.99L339.22 69.49L340.42 69.01L341.61 68.56L342.81 68.12L344.00 67.71L345.20 67.32L346.39 66.94L347.59 66.58L348.78 66.24L349.98 65.91L351.17 65.60L352.37 65.30L353.56 65.02L354.76 64.75L355.95 64.49L357.15 64.24L358.34 64.01L359.54 63.78L360.73 63.57L361.93 63.37L363.12 63.17L364.32 62.98L365.51 62.81L366.71 62.64L367.90 62.48L369.09 62.32L370.29 62.17L371.48 62.03L372.68 61.90L373.87 61.77L375.07 61.65L376.26 61.53L377.46 61.42L378.65 61.32L379.85 61.21L381.04 61.12L382.24 61.03L383.43 60.94L384.63 60.85L385.82 60.77L387.02 60.70L388.21 60.62L389.41 60.56L390.60 60.49L391.80 60.43L392.99 60.36L394.19 60.31L395.38 60.25L396.58 60.20L397.77 60.15L398.97 60.10L400.16 60.06L401.36 60.01L402.55 59.97L403.75 59.93L404.94 59.89L406.13 59.86L407.33 59.82L408.52 59.79L409.72 59.76L410.91 59.73L412.11 59.70L413.30 59.67L414.50 59.65L415.69 59.62L416.89 59.60L418.08 59.57L419.28 59.55L420.47 59.53L421.67 59.51L422.86 59.49L424.06 59.48L425.25 59.46L426.45 59.44L427.64 59.43L428.84 59.41L430.03 59.40L431.23 59.38L432.42 59.37L433.62 59.36L434.81 59.35L436.01 59.34L437.20 59.33L438.40 59.31" fill="none" stroke="#0000ff" stroke-width="1.65" stroke-dasharray="1.6 2.35"/>
<path d="M261.69 313.39L261.73 311.80L261.76 310.20L261.80 308.61L261.84 307.01L261.88 305.42L261.93 303.82L261.97 302.23L262.02 300.63L262.07 299.04L262.13 297.44L262.18 295.85L262.24 294.25L262.30 292.66L262.36 291.06L262.43 289.47L262.49 287.87L262.56 286.28L262.63 284.68L262.71 283.09L262.78 281.49L262.86 279.90L262.94 278.30L263.02 276.71L263.11 275.11L263.19 273.52L263.28 271.92L263.38 270.33L263.47 268.73L263.57 267.14L263.67 265.54L263.77 263.95L263.87 262.35L263.98 260.76L264.09 259.16L264.20 257.57L264.32 255.97L264.44 254.38L264.56 252.78L264.68 251.19L264.80 249.60L264.93 248.00L265.06 246.41L265.20 244.81L265.33 243.22L265.47 241.62L265.61 240.03L265.76 238.43L265.91 236.84L266.06 235.24L266.21 233.65L266.37 232.05L266.53 230.46L266.69 228.86L266.86 227.27L267.03 225.67L267.20 224.08L267.38 222.48L267.56 220.89L267.74 219.29L267.92 217.70L268.11 216.10L268.31 214.51L268.50 212.91L268.70 211.32L268.91 209.72L269.11 208.13L269.32 206.53L269.54 204.94L269.76 203.34L269.98 201.75L270.21 200.15L270.44 198.56L270.67 196.96L270.91 195.37L271.16 193.77L271.41 192.18L271.66 190.58L271.92 188.99L272.18 187.39L272.44 185.80L272.72 184.20L272.99 182.61L273.27 181.01L273.56 179.42L273.85 177.82L274.15 176.23L274.46 174.63L274.76 173.04L275.08 171.44L275.40 169.85L275.73 168.25L276.06 166.66L276.40 165.06L276.75 163.47L277.10 161.87L277.46 160.28L277.83 158.68L278.20 157.09L278.58 155.49L278.97 153.90L279.37 152.30L279.78 150.71L280.20 149.11L280.62 147.52L281.05 145.92L281.50 144.33L281.95 142.73L282.41 141.14L282.88 139.54L283.37 137.95L283.86 136.35L284.37 134.76L284.89 133.16L285.42 131.57L285.97 129.97L286.53 128.38L287.10 126.78L287.69 125.19L288.30 123.59L288.92 122.00L289.56 120.40L290.22 118.81L290.89 117.21L291.59 115.62L292.31 114.02L293.05 112.43L293.81 110.83L294.60 109.24L295.42 107.64L296.27 106.05L297.14 104.45L298.05 102.86L299.00 101.26L299.98 99.67L301.00 98.07L302.07 96.48L303.18 94.88L304.35 93.29L305.58 91.69L306.86 90.10L307.89 88.88L308.92 87.72L309.95 86.60L310.97 85.52L312.00 84.49L313.03 83.50L314.06 82.54L315.08 81.63L316.11 80.75L317.14 79.91L318.16 79.09L319.19 78.31L320.22 77.57L321.25 76.85L322.27 76.16L323.30 75.49L324.33 74.85L325.36 74.24L326.38 73.65L327.41 73.08L328.44 72.54L329.47 72.02L330.49 71.52L331.52 71.03L332.55 70.57L333.58 70.12L334.60 69.69L335.63 69.28L336.66 68.89L337.69 68.51L338.71 68.14L339.74 67.79L340.77 67.45L341.79 67.13L342.82 66.82L343.85 66.52L344.88 66.23L345.90 65.95L346.93 65.69L347.96 65.43L348.99 65.18L350.01 64.95L351.04 64.72L352.07 64.50L353.10 64.29L354.12 64.09L355.15 63.90L356.18 63.71L357.21 63.53L358.23 63.36L359.26 63.19L360.29 63.03L361.32 62.88L362.34 62.74L363.37 62.59L364.40 62.46L365.42 62.33L366.45 62.20L367.48 62.08L368.51 61.97L369.53 61.86L370.56 61.75L371.59 61.65L372.62 61.55L373.64 61.45L374.67 61.36L375.70 61.27L376.73 61.19L377.75 61.11L378.78 61.03L379.81 60.95L380.84 60.88L381.86 60.81L382.89 60.75L383.92 60.68L384.94 60.62L385.97 60.56L387.00 60.51L388.03 60.45L389.05 60.40L390.08 60.35L391.11 60.30L392.14 60.25L393.16 60.21L394.19 60.17L395.22 60.12L396.25 60.08L397.27 60.05L398.30 60.01L399.33 59.97L400.36 59.94L401.38 59.91L402.41 59.88L403.44 59.85L404.47 59.82L405.49 59.79L406.52 59.76L407.55 59.74L408.57 59.71L409.60 59.69L410.63 59.67L411.66 59.64L412.68 59.62L413.71 59.60L414.74 59.58L415.77 59.56L416.79 59.55L417.82 59.53L418.85 59.51L419.88 59.50L420.90 59.48L421.93 59.47L422.96 59.45L423.99 59.44L425.01 59.42L426.04 59.41L427.07 59.40L428.09 59.39L429.12 59.38L430.15 59.37L431.18 59.36L432.20 59.35L433.23 59.34L434.26 59.33L435.29 59.32L436.31 59.31L437.34 59.30L438.37 59.29" fill="none" stroke="#0000ff" stroke-width="3.95"/>
<path d="M219.97 251.30L220.03 246.69L220.09 244.97L220.15 243.70L220.21 242.65L220.27 241.75L220.33 240.94L220.39 240.20L220.45 239.50L220.51 238.85L220.57 238.22L220.63 237.62L220.69 237.04L220.75 236.48L220.81 235.92L220.87 235.38L220.93 234.85L220.99 234.32L221.05 233.80L221.11 233.28L221.17 232.77L221.23 232.26L221.29 231.76L221.35 231.26L221.41 230.75L221.47 230.25L221.52 229.76L221.58 229.26L221.64 228.76L221.70 228.26L221.76 227.77L221.82 227.27L221.88 226.78L221.94 226.28L222.00 225.79L222.06 225.29L222.12 224.80L222.18 224.31L222.24 223.81L222.30 223.32L222.36 222.82L222.42 222.33L222.48 221.84L222.54 221.36L222.60 220.88L222.66 220.41L222.72 219.93L222.78 219.45L222.84 218.98L222.90 218.50L222.96 218.03L223.20 216.13L223.44 214.25L223.68 212.38L223.91 210.53L224.15 208.70L224.39 206.88L224.63 205.09L224.87 203.31L225.11 201.56L225.35 199.84L225.59 198.13L225.83 196.46L226.07 194.80L226.30 193.17L226.54 191.57L226.78 189.99L227.02 188.44L227.26 186.91L227.50 185.40L227.74 183.92L227.98 182.47L228.22 181.03L228.45 179.62L228.69 178.24L228.93 176.87L229.17 175.53L229.41 174.21L229.65 172.91L229.89 171.64L230.13 170.38L230.37 169.14L230.61 167.92L230.84 166.73L231.08 165.55L231.32 164.38L231.56 163.24L231.80 162.11L232.04 161.01L232.28 159.91L232.52 158.84L232.76 157.78L233.00 156.73L233.23 155.70L233.47 154.69L233.71 153.69L233.95 152.70L234.19 151.73L234.43 150.77L234.67 149.83L234.91 148.90L235.15 147.98L235.39 147.07L235.62 146.18L235.86 145.30L236.10 144.43L236.34 143.57L236.58 142.72L236.82 141.88L237.06 141.06L237.30 140.24L237.54 139.44L237.77 138.64L238.01 137.86L239.21 134.08L240.40 130.52L241.60 127.16L242.79 123.99L243.99 120.99L245.18 118.16L246.38 115.46L247.57 112.91L248.77 110.48L249.96 108.17L251.16 105.97L252.35 103.88L253.55 101.89L254.74 99.99L255.94 98.18L257.13 96.46L258.33 94.81L259.52 93.24L260.72 91.74L261.91 90.30L263.11 88.93L264.30 87.63L265.49 86.38L266.69 85.18L267.88 84.04L269.08 82.95L270.27 81.91L271.47 80.91L272.66 79.96L273.86 79.04L275.05 78.17L276.25 77.34L277.44 76.54L278.64 75.78L279.83 75.05L281.03 74.35L282.22 73.69L283.42 73.05L284.61 72.44L285.81 71.85L287.00 71.30L288.20 70.76L289.39 70.25L290.59 69.76L291.78 69.30L292.98 68.85L294.17 68.42L295.37 68.01L296.56 67.62L297.76 67.25L298.95 66.89L300.14 66.55L301.34 66.22L302.53 65.91L303.73 65.61L304.92 65.32L306.12 65.05L307.31 64.79L308.51 64.54L309.70 64.30L310.90 64.07L312.09 63.85L313.29 63.64L314.48 63.44L315.68 63.25L316.87 63.07L318.07 62.89L319.26 62.72L320.46 62.56L321.65 62.41L322.85 62.27L324.04 62.13L325.24 61.99L326.43 61.86L327.63 61.74L328.82 61.62L330.02 61.51L331.21 61.41L332.41 61.30L333.60 61.21L334.80 61.11L335.99 61.02L337.18 60.94L338.38 60.86L339.57 60.78L340.77 60.71L341.96 60.63L343.16 60.57L344.35 60.50L345.55 60.44L346.74 60.38L347.94 60.32L349.13 60.27L350.33 60.22L351.52 60.17L352.72 60.12L353.91 60.07L355.11 60.03L356.30 59.99L357.50 59.95L358.69 59.91L359.89 59.88L361.08 59.84L362.28 59.81L363.47 59.78L364.67 59.75L365.86 59.72L367.06 59.69L368.25 59.66L369.45 59.64L370.64 59.62L371.83 59.59L373.03 59.57L374.22 59.55L375.42 59.53L376.61 59.51L377.81 59.49L379.00 59.47L380.20 59.46L381.39 59.44L382.59 59.43L383.78 59.41L384.98 59.40L386.17 59.38L387.37 59.37L388.56 59.36L389.76 59.35L390.95 59.34L392.15 59.33L393.34 59.32L394.54 59.31L395.73 59.30L396.93 59.29L398.12 59.28L399.32 59.27L400.51 59.26L401.71 59.26L402.90 59.25L404.10 59.24L405.29 59.24L406.49 59.23L407.68 59.23L408.87 59.22L410.07 59.21L411.26 59.21L412.46 59.20L413.65 59.20L414.85 59.20L416.04 59.19L417.24 59.19L418.43 59.18L419.63 59.18L420.82 59.18L422.02 59.17L423.21 59.17L424.41 59.17L425.60 59.16L426.80 59.16L427.99 59.16L429.19 59.15L430.38 59.15L431.58 59.15L432.77 59.15L433.97 59.15L435.16 59.14L436.36 59.14L437.55 59.14" fill="none" stroke="#ffa500" stroke-width="1.65" stroke-dasharray="1.6 2.35"/>
<path d="M219.97 338.10L219.97 338.10L220.63 336.91L220.69 329.89L220.75 326.45L220.81 323.74L220.87 321.42L220.93 319.34L220.99 317.43L221.05 315.66L221.11 313.99L221.17 312.41L221.23 310.90L221.29 309.46L221.35 308.07L221.41 306.73L221.47 305.43L221.52 304.17L221.58 302.95L221.64 301.76L221.70 300.59L221.76 299.46L221.82 298.35L221.88 297.27L221.94 296.21L222.00 295.17L222.06 294.14L222.12 293.14L222.18 292.15L222.24 291.19L222.30 290.23L222.36 289.29L222.42 288.37L222.48 287.45L222.54 286.53L222.60 285.62L222.66 284.73L222.72 283.84L222.78 282.97L222.84 282.10L222.90 281.25L222.96 280.41L223.20 277.12L223.44 273.97L223.68 270.94L223.91 268.01L224.15 265.17L224.39 262.42L224.63 259.74L224.87 257.14L225.11 254.60L225.35 252.13L225.59 249.71L225.83 247.35L226.07 245.03L226.30 242.77L226.54 240.55L226.78 238.37L227.02 236.24L227.26 234.15L227.50 232.09L227.74 230.07L227.98 228.08L228.22 226.13L228.45 224.21L228.69 222.32L228.93 220.47L229.17 218.64L229.41 216.84L229.65 215.07L229.89 213.32L230.13 211.60L230.37 209.91L230.61 208.24L230.84 206.59L231.08 204.97L231.32 203.37L231.56 201.80L231.80 200.24L232.04 198.71L232.28 197.20L232.52 195.71L232.76 194.23L233.00 192.78L233.23 191.35L233.47 189.93L233.71 188.54L233.95 187.16L234.19 185.80L234.43 184.46L234.67 183.13L234.91 181.82L235.15 180.53L235.39 179.26L235.62 178.00L235.86 176.75L236.10 175.52L236.34 174.31L236.58 173.11L236.82 171.92L237.06 170.75L237.30 169.60L237.54 168.45L237.77 167.32L238.01 166.21L239.21 160.82L240.40 155.75L241.60 150.95L242.79 146.42L243.99 142.13L245.18 138.08L246.38 134.24L247.57 130.60L248.77 127.15L249.96 123.87L251.16 120.77L252.35 117.82L253.55 115.02L254.74 112.36L255.94 109.83L257.13 107.43L258.33 105.15L259.52 102.97L260.72 100.91L261.91 98.94L263.11 97.07L264.30 95.29L265.49 93.60L266.69 91.98L267.88 90.44L269.08 88.98L270.27 87.59L271.47 86.26L272.66 85.00L273.86 83.79L275.05 82.64L276.25 81.55L277.44 80.51L278.64 79.52L279.83 78.57L281.03 77.67L282.22 76.81L283.42 75.99L284.61 75.21L285.81 74.46L287.00 73.75L288.20 73.08L289.39 72.43L290.59 71.82L291.78 71.23L292.98 70.67L294.17 70.14L295.37 69.63L296.56 69.14L297.76 68.68L298.95 68.24L300.14 67.82L301.34 67.42L302.53 67.04L303.73 66.67L304.92 66.32L306.12 65.99L307.31 65.68L308.51 65.37L309.70 65.09L310.90 64.81L312.09 64.55L313.29 64.30L314.48 64.06L315.68 63.83L316.87 63.62L318.07 63.41L319.26 63.21L320.46 63.02L321.65 62.84L322.85 62.67L324.04 62.51L325.24 62.35L326.43 62.20L327.63 62.06L328.82 61.93L330.02 61.80L331.21 61.67L332.41 61.56L333.60 61.44L334.80 61.34L335.99 61.24L337.18 61.14L338.38 61.04L339.57 60.96L340.77 60.87L341.96 60.79L343.16 60.71L344.35 60.64L345.55 60.57L346.74 60.50L347.94 60.44L349.13 60.38L350.33 60.32L351.52 60.26L352.72 60.21L353.91 60.16L355.11 60.11L356.30 60.07L357.50 60.02L358.69 59.98L359.89 59.94L361.08 59.90L362.28 59.87L363.47 59.83L364.67 59.80L365.86 59.77L367.06 59.74L368.25 59.71L369.45 59.68L370.64 59.65L371.83 59.63L373.03 59.60L374.22 59.58L375.42 59.56L376.61 59.54L377.81 59.52L379.00 59.50L380.20 59.48L381.39 59.46L382.59 59.45L383.78 59.43L384.98 59.42L386.17 59.40L387.37 59.39L388.56 59.38L389.76 59.36L390.95 59.35L392.15 59.34L393.34 59.33L394.54 59.32L395.73 59.31L396.93 59.30L398.12 59.29L399.32 59.28L400.51 59.27L401.71 59.27L402.90 59.26L404.10 59.25L405.29 59.24L406.49 59.24L407.68 59.23L408.87 59.23L410.07 59.22L411.26 59.21L412.46 59.21L413.65 59.20L414.85 59.20L416.04 59.19L417.24 59.19L418.43 59.19L419.63 59.18L420.82 59.18L422.02 59.18L423.21 59.17L424.41 59.17L425.60 59.17L426.80 59.16L427.99 59.16L429.19 59.16L430.38 59.15L431.58 59.15L432.77 59.15L433.97 59.15L435.16 59.15L436.36 59.14L437.55 59.14" fill="none" stroke="#ffa500" stroke-width="1.65" stroke-dasharray="1.6 2.35"/>
<path d="M220.01 328.03L220.03 326.33L220.05 324.63L220.07 322.93L220.09 321.23L220.11 319.53L220.14 317.83L220.17 316.13L220.20 314.43L220.24 312.73L220.27 311.03L220.31 309.33L220.36 307.63L220.40 305.93L220.45 304.23L220.50 302.53L220.55 300.83L220.60 299.13L220.66 297.43L220.72 295.74L220.78 294.04L220.84 292.34L220.91 290.64L220.98 288.94L221.05 287.24L221.12 285.54L221.20 283.84L221.28 282.14L221.36 280.44L221.45 278.74L221.54 277.04L221.63 275.34L221.72 273.64L221.81 271.94L221.91 270.24L222.01 268.54L222.12 266.84L222.22 265.14L222.33 263.45L222.45 261.75L222.56 260.05L222.68 258.35L222.80 256.65L222.93 254.95L223.05 253.25L223.18 251.55L223.32 249.85L223.45 248.15L223.59 246.45L223.73 244.75L223.88 243.05L224.03 241.35L224.18 239.65L224.33 237.95L224.49 236.25L224.66 234.55L224.82 232.86L224.99 231.16L225.16 229.46L225.34 227.76L225.52 226.06L225.70 224.36L225.89 222.66L226.08 220.96L226.27 219.26L226.47 217.56L226.67 215.86L226.88 214.16L227.09 212.46L227.30 210.76L227.52 209.06L227.74 207.36L227.97 205.66L228.20 203.96L228.44 202.26L228.68 200.57L228.92 198.87L229.17 197.17L229.43 195.47L229.69 193.77L229.95 192.07L230.22 190.37L230.50 188.67L230.78 186.97L231.06 185.27L231.36 183.57L231.65 181.87L231.96 180.17L232.27 178.47L232.58 176.77L232.90 175.07L233.23 173.37L233.56 171.67L233.91 169.97L234.25 168.28L234.61 166.58L234.97 164.88L235.34 163.18L235.72 161.48L236.11 159.78L236.50 158.08L236.90 156.38L237.31 154.68L237.73 152.98L238.16 151.28L238.60 149.58L239.05 147.88L239.51 146.18L239.98 144.48L240.47 142.78L240.96 141.08L241.46 139.38L241.98 137.69L242.51 135.99L243.06 134.29L243.61 132.59L244.19 130.89L244.77 129.19L245.38 127.49L246.00 125.79L246.64 124.09L247.30 122.39L247.97 120.69L248.67 118.99L249.39 117.29L250.13 115.59L250.90 113.89L251.69 112.19L252.51 110.49L253.36 108.79L254.24 107.09L255.15 105.40L256.10 103.70L257.09 102.00L258.12 100.30L259.19 98.60L260.32 96.90L261.49 95.20L262.73 93.50L264.03 91.80L265.40 90.10L266.68 88.59L267.97 87.15L269.25 85.78L270.54 84.48L271.82 83.25L273.11 82.07L274.40 80.96L275.68 79.89L276.97 78.88L278.25 77.92L279.54 77.01L280.83 76.14L282.11 75.32L283.40 74.53L284.68 73.78L285.97 73.07L287.26 72.39L288.54 71.75L289.83 71.14L291.11 70.55L292.40 70.00L293.69 69.47L294.97 68.97L296.26 68.49L297.54 68.04L298.83 67.60L300.12 67.19L301.40 66.80L302.69 66.43L303.97 66.07L305.26 65.74L306.55 65.42L307.83 65.11L309.12 64.82L310.40 64.54L311.69 64.28L312.97 64.03L314.26 63.79L315.55 63.56L316.83 63.35L318.12 63.14L319.40 62.95L320.69 62.76L321.98 62.58L323.26 62.42L324.55 62.26L325.83 62.10L327.12 61.96L328.41 61.82L329.69 61.69L330.98 61.56L332.26 61.44L333.55 61.33L334.84 61.22L336.12 61.12L337.41 61.02L338.69 60.93L339.98 60.84L341.27 60.76L342.55 60.68L343.84 60.60L345.12 60.53L346.41 60.46L347.70 60.39L348.98 60.33L350.27 60.27L351.55 60.21L352.84 60.16L354.12 60.11L355.41 60.06L356.70 60.01L357.98 59.97L359.27 59.93L360.55 59.89L361.84 59.85L363.13 59.81L364.41 59.78L365.70 59.75L366.98 59.71L368.27 59.69L369.56 59.66L370.84 59.63L372.13 59.60L373.41 59.58L374.70 59.56L375.99 59.53L377.27 59.51L378.56 59.49L379.84 59.47L381.13 59.46L382.42 59.44L383.70 59.42L384.99 59.41L386.27 59.39L387.56 59.38L388.85 59.36L390.13 59.35L391.42 59.34L392.70 59.33L393.99 59.32L395.27 59.31L396.56 59.30L397.85 59.29L399.13 59.28L400.42 59.27L401.70 59.26L402.99 59.25L404.28 59.25L405.56 59.24L406.85 59.23L408.13 59.23L409.42 59.22L410.71 59.21L411.99 59.21L413.28 59.20L414.56 59.20L415.85 59.19L417.14 59.19L418.42 59.18L419.71 59.18L420.99 59.18L422.28 59.17L423.57 59.17L424.85 59.17L426.14 59.16L427.42 59.16L428.71 59.16L430.00 59.15L431.28 59.15L432.57 59.15L433.85 59.15L435.14 59.14L436.42 59.14L437.71 59.14" fill="none" stroke="#ffa500" stroke-width="3.95"/>
<line x1="136.49" x2="435.50" y1="59.10" y2="59.10" stroke="#a0522d" stroke-width="1.65" stroke-dasharray="1.6 2.35"/>
<line x1="136.49" x2="435.80" y1="59.05" y2="59.05" stroke="#a0522d" stroke-width="3.7" stroke-dasharray="5.8 5.47"/>
</g>
<g style="opacity:0.999">
<text x="256.00" y="28.60" text-anchor="middle" style="font-size:16.8px;word-spacing:0.8px">Rotation Period (days)</text>
<text x="136.79" y="49.20" text-anchor="middle">320</text>
<text x="196.53" y="49.20" text-anchor="middle">32.</text>
<text x="256.27" y="49.20" text-anchor="middle">3.2</text>
<text x="316.02" y="49.20" text-anchor="middle">0.32</text>
<text x="375.76" y="49.20" text-anchor="middle">0.032</text>
<text x="435.50" y="49.20" text-anchor="middle">0.0032</text>
<text x="77.05" y="368.50" text-anchor="middle">-2</text>
<text x="136.79" y="368.50" text-anchor="middle">-1</text>
<text x="196.53" y="368.50" text-anchor="middle">0</text>
<text x="256.27" y="368.50" text-anchor="middle">1</text>
<text x="316.02" y="368.50" text-anchor="middle">2</text>
<text x="375.76" y="368.50" text-anchor="middle">3</text>
<text x="435.50" y="368.50" text-anchor="middle">4</text>
<text x="70.40" y="338.30" text-anchor="end" style="letter-spacing:-0.5px">0</text>
<text x="70.40" y="284.30" text-anchor="end" style="letter-spacing:-0.5px">20</text>
<text x="70.40" y="222.30" text-anchor="end" style="letter-spacing:-0.5px">40</text>
<text x="70.40" y="160.30" text-anchor="end" style="letter-spacing:-0.5px">60</text>
<text x="70.40" y="98.30" text-anchor="end" style="letter-spacing:-0.5px">80</text>
<text x="214" y="394.3" text-anchor="start">log(</text>
<text x="242.6" y="394.3" text-anchor="start" style="font-family:'Liberation Serif',serif;font-style:italic;font-size:16.5px;stroke-width:0.1px">α</text>
<text x="257.8" y="394.3" text-anchor="start">[&quot;/yr])</text>
<text transform="translate(32.7,237.2) rotate(-90)" text-anchor="start" style="font-size:17.3px"><tspan style="font-size:13.5px">ε</tspan> (degree)</text>
<text x="115.20" y="106.50" text-anchor="start" style="font-size:16.75px;letter-spacing:-0.4px">K62</text>
<text x="155.90" y="106.50" text-anchor="middle" style="font-size:18.4px">+</text>
<text x="167.20" y="106.50" text-anchor="start" style="font-size:16.75px;letter-spacing:0.12px">Giants</text>
<line x1="111.3" x2="124.6" y1="170.30" y2="170.30" stroke="#a0522d" stroke-width="4.1"/>
<text x="138.20" y="175.90" text-anchor="start" style="font-size:15.05px">0.&quot;/yr</text>
<line x1="111.3" x2="124.6" y1="191.90" y2="191.90" stroke="#ffa500" stroke-width="4.1"/>
<text x="138.20" y="197.50" text-anchor="start" style="font-size:15.05px">-2.487&quot;/yr</text>
<line x1="111.3" x2="124.6" y1="213.50" y2="213.50" stroke="#0000ff" stroke-width="4.1"/>
<text x="138.20" y="219.10" text-anchor="start" style="font-size:15.05px">-12.25&quot;/yr</text>
<line x1="111.3" x2="124.6" y1="235.10" y2="235.10" stroke="#a020f0" stroke-width="4.1"/>
<text x="138.20" y="240.70" text-anchor="start" style="font-size:15.05px">-30.60&quot;/yr</text>
<line x1="111.3" x2="124.6" y1="256.70" y2="256.70" stroke="#006400" stroke-width="4.1"/>
<text x="138.20" y="262.30" text-anchor="start" style="font-size:15.05px">-45.03&quot;/yr</text>
<line x1="111.3" x2="124.6" y1="278.30" y2="278.30" stroke="#ff0000" stroke-width="4.1"/>
<text x="138.20" y="283.90" text-anchor="start" style="font-size:15.05px">-283.4&quot;/yr</text>
<line x1="111.3" x2="124.6" y1="299.90" y2="299.90" stroke="#7f7f7f" stroke-width="4.1"/>
<text x="138.20" y="305.50" text-anchor="start" style="font-size:15.05px">-1852.&quot;/yr</text>
</g>
</svg></body></html>
